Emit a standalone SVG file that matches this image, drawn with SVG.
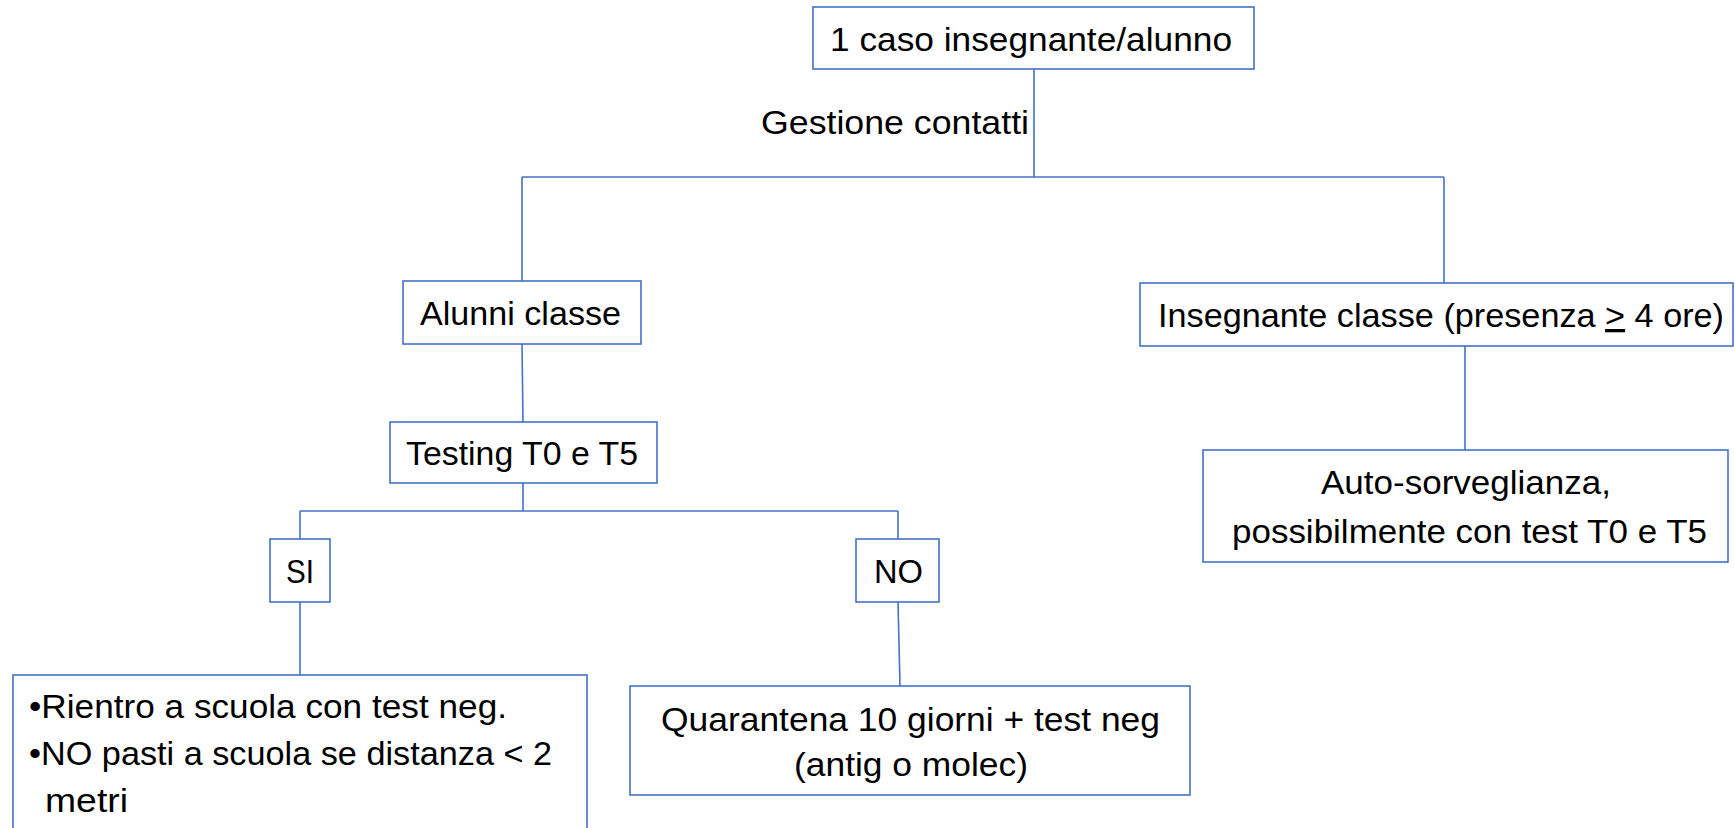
<svg xmlns="http://www.w3.org/2000/svg" width="1735" height="828" viewBox="0 0 1735 828">
<style>
.box{fill:#ffffff;stroke:#4472c4;stroke-width:1.6}
.ln{stroke:#4472c4;stroke-width:1.6;fill:none}
.t{font-family:"Liberation Sans",Arial,sans-serif;font-size:33px;fill:#000000}
</style>
<rect width="1735" height="828" fill="#ffffff"/>
<g id="connectors">
<line class="ln" x1="1034" y1="69" x2="1034" y2="177"/>
<line class="ln" x1="522" y1="177" x2="1444" y2="177"/>
<line class="ln" x1="522" y1="177" x2="522" y2="281"/>
<line class="ln" x1="1444" y1="177" x2="1444" y2="283"/>
<line class="ln" x1="522" y1="344" x2="523" y2="422"/>
<line class="ln" x1="523" y1="483" x2="523" y2="511"/>
<line class="ln" x1="300" y1="511" x2="898" y2="511"/>
<line class="ln" x1="300" y1="511" x2="300" y2="539"/>
<line class="ln" x1="898" y1="511" x2="898" y2="539"/>
<line class="ln" x1="300" y1="602" x2="300" y2="675"/>
<line class="ln" x1="898" y1="602" x2="900" y2="686"/>
<line class="ln" x1="1465" y1="346" x2="1465" y2="450"/>
</g>
<g id="n-top">
<rect class="box" x="813" y="7" width="441" height="62"/>
<text class="t" x="830" y="51" textLength="402" lengthAdjust="spacingAndGlyphs">1 caso insegnante/alunno</text>
</g>
<g id="n-gestione">
<text class="t" x="761" y="134" textLength="268" lengthAdjust="spacingAndGlyphs">Gestione contatti</text>
</g>
<g id="n-alunni">
<rect class="box" x="403" y="281" width="238" height="63"/>
<text class="t" x="420" y="325" textLength="201" lengthAdjust="spacingAndGlyphs">Alunni classe</text>
</g>
<g id="n-insegnante">
<rect class="box" x="1140" y="283" width="593" height="63"/>
<text class="t" x="1158" y="327" textLength="566" lengthAdjust="spacingAndGlyphs">Insegnante classe (presenza <tspan text-decoration="underline">&gt;</tspan> 4 ore)</text>
</g>
<g id="n-testing">
<rect class="box" x="390" y="422" width="267" height="61"/>
<text class="t" x="406" y="465" textLength="232" lengthAdjust="spacingAndGlyphs">Testing T0 e T5</text>
</g>
<g id="n-si">
<rect class="box" x="270" y="539" width="60" height="63"/>
<text class="t" x="286" y="583" textLength="28" lengthAdjust="spacingAndGlyphs">SI</text>
</g>
<g id="n-no">
<rect class="box" x="856" y="539" width="83" height="63"/>
<text class="t" x="874" y="583" textLength="49" lengthAdjust="spacingAndGlyphs">NO</text>
</g>
<g id="n-rientro">
<rect class="box" x="13" y="675" width="574" height="170"/>
<text class="t" x="29" y="718" textLength="478" lengthAdjust="spacingAndGlyphs">•Rientro a scuola con test neg.</text>
<text class="t" x="29" y="765" textLength="523" lengthAdjust="spacingAndGlyphs">•NO pasti a scuola se distanza &lt; 2</text>
<text class="t" x="45" y="812" textLength="83" lengthAdjust="spacingAndGlyphs">metri</text>
</g>
<g id="n-quarantena">
<rect class="box" x="630" y="686" width="560" height="109"/>
<text class="t" x="661" y="731" textLength="499" lengthAdjust="spacingAndGlyphs">Quarantena 10 giorni + test neg</text>
<text class="t" x="794" y="776" textLength="234" lengthAdjust="spacingAndGlyphs">(antig o molec)</text>
</g>
<g id="n-auto">
<rect class="box" x="1203" y="450" width="525" height="112"/>
<text class="t" x="1321" y="494" textLength="290" lengthAdjust="spacingAndGlyphs">Auto-sorveglianza,</text>
<text class="t" x="1232" y="543" textLength="475" lengthAdjust="spacingAndGlyphs">possibilmente con test T0 e T5</text>
</g>
</svg>
